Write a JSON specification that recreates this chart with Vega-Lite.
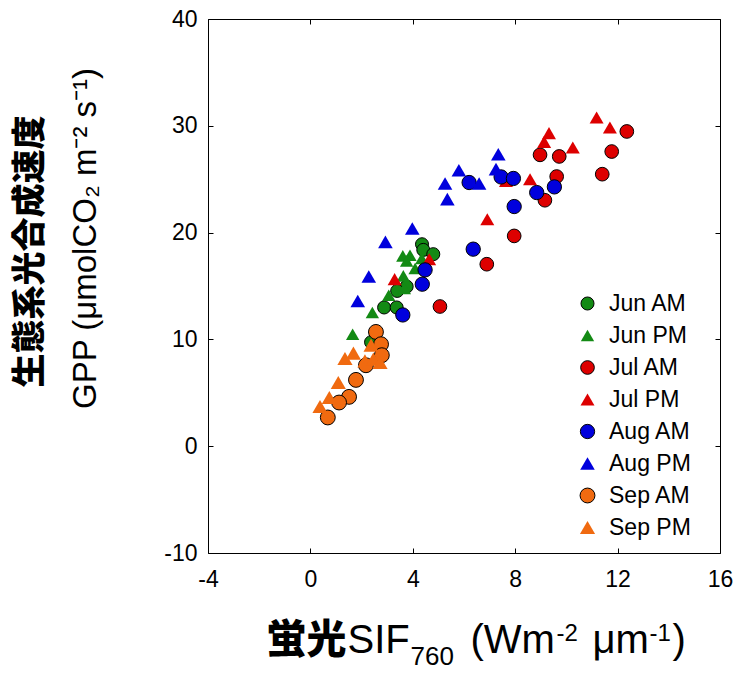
{
  "$schema": "https://vega.github.io/schema/vega-lite/v6.json",
  "autosize": {"type": "none"},
  "padding": {"left": 208, "top": 19, "right": 16, "bottom": 120},
  "width": 512,
  "height": 534,
  "background": "white",
  "config": {"view": {"stroke": "black", "strokeWidth": 1}},
  "data": {"values": [
    {"g": "Jun AM", "x": 4.36, "y": 18.91}, {"g": "Jun AM", "x": 4.41, "y": 18.38}, {"g": "Jun AM", "x": 4.80, "y": 17.98}, {"g": "Jun AM", "x": 3.76, "y": 14.95}, {"g": "Jun AM", "x": 3.39, "y": 14.54}, {"g": "Jun AM", "x": 2.88, "y": 12.99}, {"g": "Jun AM", "x": 3.37, "y": 12.99}, {"g": "Jun AM", "x": 2.37, "y": 9.74},
    {"g": "Jun PM", "x": 3.61, "y": 17.82}, {"g": "Jun PM", "x": 3.89, "y": 17.88}, {"g": "Jun PM", "x": 3.76, "y": 17.35}, {"g": "Jun PM", "x": 4.35, "y": 17.58}, {"g": "Jun PM", "x": 4.09, "y": 16.64}, {"g": "Jun PM", "x": 3.63, "y": 15.95}, {"g": "Jun PM", "x": 3.67, "y": 14.77}, {"g": "Jun PM", "x": 3.06, "y": 14.14}, {"g": "Jun PM", "x": 2.42, "y": 12.52}, {"g": "Jun PM", "x": 1.65, "y": 10.49},
    {"g": "Jul AM", "x": 12.36, "y": 29.47}, {"g": "Jul AM", "x": 11.77, "y": 27.59}, {"g": "Jul AM", "x": 8.97, "y": 27.28}, {"g": "Jul AM", "x": 9.72, "y": 27.13}, {"g": "Jul AM", "x": 9.62, "y": 25.25}, {"g": "Jul AM", "x": 11.40, "y": 25.47}, {"g": "Jul AM", "x": 9.16, "y": 23.03}, {"g": "Jul AM", "x": 7.96, "y": 19.69}, {"g": "Jul AM", "x": 6.89, "y": 17.04}, {"g": "Jul AM", "x": 5.06, "y": 13.08},
    {"g": "Jul PM", "x": 11.18, "y": 30.78}, {"g": "Jul PM", "x": 11.70, "y": 29.84}, {"g": "Jul PM", "x": 9.32, "y": 29.31}, {"g": "Jul PM", "x": 9.13, "y": 28.49}, {"g": "Jul PM", "x": 10.25, "y": 27.97}, {"g": "Jul PM", "x": 8.58, "y": 25.0}, {"g": "Jul PM", "x": 7.64, "y": 24.84}, {"g": "Jul PM", "x": 6.91, "y": 21.25}, {"g": "Jul PM", "x": 4.64, "y": 17.51}, {"g": "Jul PM", "x": 3.29, "y": 15.64},
    {"g": "Aug AM", "x": 6.20, "y": 24.69}, {"g": "Aug AM", "x": 7.45, "y": 25.21}, {"g": "Aug AM", "x": 7.93, "y": 25.07}, {"g": "Aug AM", "x": 8.84, "y": 23.75}, {"g": "Aug AM", "x": 9.53, "y": 24.28}, {"g": "Aug AM", "x": 7.96, "y": 22.44}, {"g": "Aug AM", "x": 6.36, "y": 18.45}, {"g": "Aug AM", "x": 4.48, "y": 16.51}, {"g": "Aug AM", "x": 4.37, "y": 15.17}, {"g": "Aug AM", "x": 3.61, "y": 12.29},
    {"g": "Aug PM", "x": 7.34, "y": 27.34}, {"g": "Aug PM", "x": 5.80, "y": 25.84}, {"g": "Aug PM", "x": 7.25, "y": 25.94}, {"g": "Aug PM", "x": 6.59, "y": 24.60}, {"g": "Aug PM", "x": 5.26, "y": 24.60}, {"g": "Aug PM", "x": 5.35, "y": 23.13}, {"g": "Aug PM", "x": 3.98, "y": 20.38}, {"g": "Aug PM", "x": 2.93, "y": 19.13}, {"g": "Aug PM", "x": 2.28, "y": 15.89}, {"g": "Aug PM", "x": 1.85, "y": 13.60},
    {"g": "Sep AM", "x": 2.56, "y": 10.70}, {"g": "Sep AM", "x": 2.76, "y": 9.55}, {"g": "Sep AM", "x": 2.79, "y": 8.52}, {"g": "Sep AM", "x": 2.17, "y": 7.58}, {"g": "Sep AM", "x": 1.78, "y": 6.21}, {"g": "Sep AM", "x": 1.51, "y": 4.62}, {"g": "Sep AM", "x": 1.12, "y": 4.09}, {"g": "Sep AM", "x": 0.68, "y": 2.69},
    {"g": "Sep PM", "x": 2.37, "y": 9.46}, {"g": "Sep PM", "x": 1.68, "y": 8.71}, {"g": "Sep PM", "x": 1.35, "y": 8.21}, {"g": "Sep PM", "x": 2.13, "y": 7.99}, {"g": "Sep PM", "x": 2.46, "y": 8.15}, {"g": "Sep PM", "x": 2.72, "y": 7.84}, {"g": "Sep PM", "x": 1.09, "y": 5.96}, {"g": "Sep PM", "x": 0.74, "y": 4.56}, {"g": "Sep PM", "x": 0.375, "y": 3.72}
  ]},
  "resolve": {"axis": {"x": "independent", "y": "independent"}},
  "layer": [
    {
      "mark": {"type": "point", "filled": true, "opacity": 1, "strokeWidth": 1},
      "encoding": {
        "x": {"field": "x", "type": "quantitative", "scale": {"domain": [-4, 16], "nice": false, "zero": false},
          "axis": {"orient": "bottom", "values": [-4, 0, 4, 8, 12, 16], "labelExpr": "replace(datum.label, '−', '-')", "tickSize": -5, "tickColor": "black", "labelPadding": 20, "labelFontSize": 23, "labelFont": "Liberation Sans", "labelColor": "black", "labelFlush": false, "labelOverlap": false, "domain": false, "grid": false,
            "title": "SIF", "titleX": 139, "titleY": 99, "titleAlign": "left", "titleBaseline": "alphabetic", "titleFontSize": 40, "titleFont": "Liberation Sans", "titleFontWeight": "normal", "titleColor": "black"}},
        "y": {"field": "y", "type": "quantitative", "scale": {"domain": [-10, 40], "nice": false, "zero": false},
          "axis": {"orient": "left", "values": [-10, 0, 10, 20, 30, 40], "labelExpr": "replace(datum.label, '−', '-')", "tickSize": -5, "tickColor": "black", "labelPadding": 16, "labelFontSize": 23, "labelFont": "Liberation Sans", "labelColor": "black", "labelFlush": false, "labelOverlap": false, "domain": false, "grid": false,
            "title": "GPP (μmolCO₂ m⁻² s⁻¹)", "titleX": -113, "titleY": 219, "titleAlign": "center", "titleBaseline": "alphabetic", "titleFontSize": 33, "titleFont": "Liberation Sans", "titleFontWeight": "normal", "titleColor": "black"}},
        "color": {"field": "g", "type": "nominal",
          "scale": {"domain": ["Jun AM", "Jun PM", "Jul AM", "Jul PM", "Aug AM", "Aug PM", "Sep AM", "Sep PM"],
                    "range": ["#138a14", "#138a14", "#dd0000", "#dd0000", "#0000dd", "#0000dd", "#f06a10", "#f06a10"]},
          "legend": {"orient": "none", "legendX": 368, "legendY": 273, "title": null, "padding": 0, "rowPadding": 8, "labelFontSize": 23, "labelFont": "Liberation Sans", "labelColor": "black", "labelOffset": 10, "symbolSize": 170, "symbolStrokeWidth": 1}},
        "shape": {"field": "g", "type": "nominal",
          "scale": {"domain": ["Jun AM", "Jun PM", "Jul AM", "Jul PM", "Aug AM", "Aug PM", "Sep AM", "Sep PM"],
                    "range": ["circle", "triangle-up", "circle", "triangle-up", "circle", "triangle-up", "circle", "triangle-up"]}},
        "stroke": {"field": "g", "type": "nominal",
          "scale": {"domain": ["Jun AM", "Jun PM", "Jul AM", "Jul PM", "Aug AM", "Aug PM", "Sep AM", "Sep PM"],
                    "range": ["black", "transparent", "black", "transparent", "black", "transparent", "black", "transparent"]}},
        "size": {"field": "g", "type": "nominal", "legend": null,
          "scale": {"domain": ["Jun AM", "Jun PM", "Jul AM", "Jul PM", "Aug AM", "Aug PM", "Sep AM", "Sep PM"],
                    "range": [170, 230, 170, 230, 170, 230, 170, 230]}}
      }
    },
    {
      "mark": {"type": "point", "opacity": 0},
      "encoding": {
        "x": {"field": "x", "type": "quantitative", "scale": {"domain": [-4, 16], "nice": false, "zero": false},
          "axis": {"orient": "bottom", "labels": false, "ticks": false, "domain": false, "grid": false,
            "title": "蛍光", "titleX": 58, "titleY": 99, "titleAlign": "left", "titleBaseline": "alphabetic", "titleFontSize": 40, "titleFont": "Noto Sans CJK JP", "titleFontWeight": 900, "titleColor": "black"}},
        "y": {"field": "y", "type": "quantitative", "scale": {"domain": [-10, 40], "nice": false, "zero": false},
          "axis": {"orient": "left", "labels": false, "ticks": false, "domain": false, "grid": false,
            "title": "生態系光合成速度", "titleX": -178, "titleY": 232, "titleAlign": "center", "titleBaseline": "middle", "titleFontSize": 34, "titleFont": "Noto Sans CJK JP", "titleFontWeight": 900, "titleColor": "black"}}
      }
    },
    {
      "mark": {"type": "point", "opacity": 0},
      "encoding": {
        "x": {"field": "x", "type": "quantitative", "scale": {"domain": [-4, 16], "nice": false, "zero": false},
          "axis": {"orient": "top", "values": [-4, 0, 4, 8, 12, 16], "labels": false, "tickSize": -5, "tickColor": "black", "domain": false, "grid": false, "title": null}},
        "y": {"field": "y", "type": "quantitative", "scale": {"domain": [-10, 40], "nice": false, "zero": false},
          "axis": {"orient": "right", "values": [-10, 0, 10, 20, 30, 40], "labels": false, "tickSize": -5, "tickColor": "black", "domain": false, "grid": false, "title": null}}
      }
    },
    {
      "mark": {"type": "point", "opacity": 0},
      "encoding": {
        "x": {"field": "x", "type": "quantitative", "scale": {"domain": [-4, 16], "nice": false, "zero": false},
          "axis": {"orient": "bottom", "labels": false, "ticks": false, "domain": false, "grid": false,
            "title": "760", "titleX": 202, "titleY": 111, "titleAlign": "left", "titleBaseline": "alphabetic", "titleFontSize": 26, "titleFont": "Liberation Sans", "titleFontWeight": "normal", "titleColor": "black"}},
        "y": {"field": "y", "type": "quantitative", "scale": {"domain": [-10, 40], "nice": false, "zero": false}, "axis": null}
      }
    },
    {
      "mark": {"type": "point", "opacity": 0},
      "encoding": {
        "x": {"field": "x", "type": "quantitative", "scale": {"domain": [-4, 16], "nice": false, "zero": false},
          "axis": {"orient": "bottom", "labels": false, "ticks": false, "domain": false, "grid": false,
            "title": "(Wm", "titleX": 262, "titleY": 99, "titleAlign": "left", "titleBaseline": "alphabetic", "titleFontSize": 40, "titleFont": "Liberation Sans", "titleFontWeight": "normal", "titleColor": "black"}},
        "y": {"field": "y", "type": "quantitative", "scale": {"domain": [-10, 40], "nice": false, "zero": false}, "axis": null}
      }
    },
    {
      "mark": {"type": "point", "opacity": 0},
      "encoding": {
        "x": {"field": "x", "type": "quantitative", "scale": {"domain": [-4, 16], "nice": false, "zero": false},
          "axis": {"orient": "bottom", "labels": false, "ticks": false, "domain": false, "grid": false,
            "title": "-2", "titleX": 348, "titleY": 87, "titleAlign": "left", "titleBaseline": "alphabetic", "titleFontSize": 24, "titleFont": "Liberation Sans", "titleFontWeight": "normal", "titleColor": "black"}},
        "y": {"field": "y", "type": "quantitative", "scale": {"domain": [-10, 40], "nice": false, "zero": false}, "axis": null}
      }
    },
    {
      "mark": {"type": "point", "opacity": 0},
      "encoding": {
        "x": {"field": "x", "type": "quantitative", "scale": {"domain": [-4, 16], "nice": false, "zero": false},
          "axis": {"orient": "bottom", "labels": false, "ticks": false, "domain": false, "grid": false,
            "title": "μm", "titleX": 384, "titleY": 99, "titleAlign": "left", "titleBaseline": "alphabetic", "titleFontSize": 40, "titleFont": "Liberation Sans", "titleFontWeight": "normal", "titleColor": "black"}},
        "y": {"field": "y", "type": "quantitative", "scale": {"domain": [-10, 40], "nice": false, "zero": false}, "axis": null}
      }
    },
    {
      "mark": {"type": "point", "opacity": 0},
      "encoding": {
        "x": {"field": "x", "type": "quantitative", "scale": {"domain": [-4, 16], "nice": false, "zero": false},
          "axis": {"orient": "bottom", "labels": false, "ticks": false, "domain": false, "grid": false,
            "title": "-1", "titleX": 441, "titleY": 87, "titleAlign": "left", "titleBaseline": "alphabetic", "titleFontSize": 24, "titleFont": "Liberation Sans", "titleFontWeight": "normal", "titleColor": "black"}},
        "y": {"field": "y", "type": "quantitative", "scale": {"domain": [-10, 40], "nice": false, "zero": false}, "axis": null}
      }
    },
    {
      "mark": {"type": "point", "opacity": 0},
      "encoding": {
        "x": {"field": "x", "type": "quantitative", "scale": {"domain": [-4, 16], "nice": false, "zero": false},
          "axis": {"orient": "bottom", "labels": false, "ticks": false, "domain": false, "grid": false,
            "title": ")", "titleX": 464, "titleY": 99, "titleAlign": "left", "titleBaseline": "alphabetic", "titleFontSize": 40, "titleFont": "Liberation Sans", "titleFontWeight": "normal", "titleColor": "black"}},
        "y": {"field": "y", "type": "quantitative", "scale": {"domain": [-10, 40], "nice": false, "zero": false}, "axis": null}
      }
    }
  ]
}
